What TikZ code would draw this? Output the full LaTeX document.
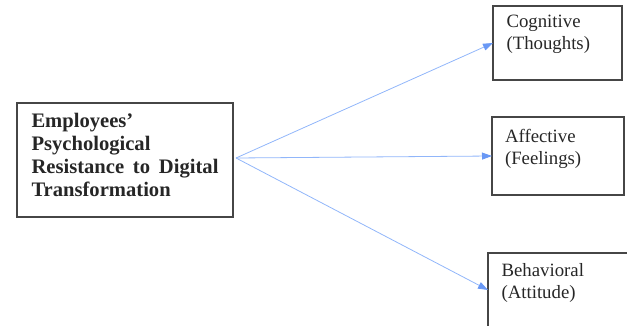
\documentclass[tikz,border=0pt]{standalone}
\usepackage{fontspec}
\setmainfont{Liberation Serif}
\usetikzlibrary{arrows.meta}
\definecolor{linkblue}{RGB}{145,182,250}
\definecolor{tipblue}{RGB}{105,152,245}
\definecolor{framegray}{RGB}{70,70,70}

\begin{document}
\begin{tikzpicture}[x=1pt,y=-1pt,
    causebox/.style={draw=framegray, line width=1.1pt, anchor=north west, outer sep=0pt,
      inner ysep=0pt, inner xsep=14.5pt, align=justify, text=black!85,
      font=\fontsize{20.6}{23}\selectfont\bfseries},
    effectbox/.style={draw=framegray, line width=1.1pt, anchor=north west, outer sep=0pt,
      inner ysep=0pt, inner xsep=13.5pt, align=left, text=black!85,
      font=\fontsize{18.8}{22}\selectfont},
    link/.style={draw=linkblue, line width=0.8pt,
      -{Triangle[length=10pt,width=7pt,color=tipblue]}}]
  \clip (0,0) rectangle (627,326);

  % Box on the left
  \node[causebox, text width=187pt, text height=25pt, text depth=89pt] (resist) at (17,103)
    {Employees’\\Psychological\\Resistance to Digital Transformation};

  % Boxes on the right
  \node[effectbox, text width=102pt, text height=22pt, text depth=52pt] (cog) at (493,6)
    {Cognitive\\(Thoughts)};
  \node[effectbox, inner xsep=13pt, text width=106pt, text height=26pt, text depth=52pt] (aff) at (492,117)
    {Affective\\(Feelings)};
  \node[effectbox, text width=115pt, text height=23pt, text depth=51pt] (beh) at (488,253)
    {Behavioral\\(Attitude)};

  % Arrows fanning out from one point
  \coordinate (hub) at (236,158);
  \draw[link] (hub) -- (cog.west);
  \draw[link] (hub) -- (aff.west);
  \draw[link] (hub) -- (beh.west);
\end{tikzpicture}
\end{document}
